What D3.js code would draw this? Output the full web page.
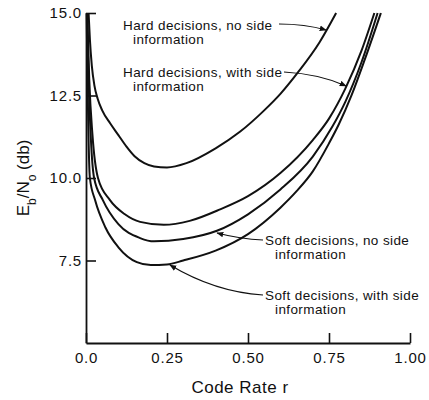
<!DOCTYPE html>
<html>
<head>
<meta charset="utf-8">
<script src="https://cdn.jsdelivr.net/npm/d3@7"></script>
<style>
  html, body { margin: 0; padding: 0; background: #fff; }
  svg { display: block; }
  text { font-family: "Liberation Sans", Arial, sans-serif; fill: #111; }
</style>
</head>
<body>
<svg id="chart" width="429" height="400"></svg>
<script>
// ---------- data ----------
const xTickValues = [0, 0.25, 0.5, 0.75, 1.0];
const xTickLabels = ["0.0", "0.25", "0.50", "0.75", "1.00"];
const yTickValues = [7.5, 10, 12.5, 15];
const yTickLabels = ["7.5", "10.0", "12.5", "15.0"];

// [code rate r, Eb/No (db)]
const hardNoSide = [
  [0.008, 15.0], [0.012, 14.2], [0.018, 13.4], [0.026, 12.8], [0.036, 12.4],
  [0.05, 12.05], [0.075, 11.65], [0.1, 11.3], [0.125, 10.95], [0.15, 10.66],
  [0.18, 10.45], [0.21, 10.35], [0.25, 10.32], [0.31, 10.45], [0.40, 10.9],
  [0.475, 11.4], [0.55, 12.05], [0.6, 12.55], [0.654, 13.2], [0.72, 14.1],
  [0.772, 15.0]
];
const hardWithSide = [
  [0.004, 15.0], [0.01, 13.0], [0.02, 11.3], [0.037, 10.0], [0.074, 9.33],
  [0.12, 8.9], [0.167, 8.67], [0.24, 8.58], [0.32, 8.7], [0.414, 9.05],
  [0.5, 9.45], [0.6, 10.15], [0.7, 11.15], [0.75, 11.8], [0.8, 12.7],
  [0.85, 13.85], [0.89, 15.0]
];
const softNoSide = [
  [0.003, 15.0], [0.008, 13.0], [0.015, 11.2], [0.025, 10.0], [0.052, 9.33],
  [0.1, 8.6], [0.167, 8.18], [0.21, 8.08], [0.3, 8.15], [0.404, 8.4],
  [0.5, 8.9], [0.6, 9.65], [0.7, 10.65], [0.76, 11.55], [0.8, 12.3],
  [0.85, 13.5], [0.90, 15.0]
];
const softWithSide = [
  [0.002, 15.0], [0.005, 12.8], [0.012, 10.0], [0.028, 9.33], [0.06, 8.5],
  [0.1, 7.9], [0.157, 7.45], [0.2, 7.36], [0.25, 7.38], [0.3, 7.5],
  [0.4, 7.8], [0.5, 8.3], [0.6, 9.1], [0.65, 9.6], [0.7, 10.2],
  [0.75, 11.05], [0.78, 11.62], [0.82, 12.52], [0.86, 13.58], [0.91, 15.0]
];
const seriesList = [hardNoSide, hardWithSide, softNoSide, softWithSide];

const labelHardNoSide = ["Hard decisions, no side", "information"];
const labelHardWithSide = ["Hard decisions, with side", "information"];
const labelSoftNoSide = ["Soft decisions, no side", "information"];
const labelSoftWithSide = ["Soft decisions, with side", "information"];

const xTitle = "Code Rate r";

// ---------- layout ----------
const svg = d3.select("#chart");
const x = d3.scaleLinear().domain([0, 1]).range([86, 410]);
const y = d3.scaleLinear().domain([5, 15]).range([343, 13]);

svg.append("defs").append("clipPath").attr("id", "plotClip")
  .append("rect").attr("x", 84).attr("y", 12).attr("width", 340).attr("height", 332);

svg.append("defs").append("marker")
  .attr("id", "arrow").attr("viewBox", "0 0 10 10")
  .attr("refX", 9).attr("refY", 5)
  .attr("markerWidth", 7).attr("markerHeight", 7)
  .attr("markerUnits", "userSpaceOnUse")
  .attr("orient", "auto")
  .append("path").attr("d", "M0,1 L10,5 L0,9 Z").attr("fill", "#111");

// axes
const yAxis = d3.axisLeft(y)
  .tickValues(yTickValues)
  .tickFormat((d, i) => yTickLabels[i])
  .tickSizeInner(-10).tickSizeOuter(0).tickPadding(4);
const gy = svg.append("g").attr("transform", `translate(${x(0)},0)`).call(yAxis);

const xAxis = d3.axisBottom(x)
  .tickValues(xTickValues)
  .tickFormat((d, i) => xTickLabels[i])
  .tickSizeInner(-10).tickSizeOuter(0).tickPadding(9);
const gx = svg.append("g").attr("transform", `translate(0,${y(5)})`).call(xAxis);

[gx, gy].forEach(g => {
  g.select(".domain").attr("stroke", "#111").attr("stroke-width", 1.8);
  g.selectAll(".tick line").attr("stroke", "#111").attr("stroke-width", 1.6);
  g.selectAll(".tick text")
    .attr("fill", "#111")
    .style("font-family", '"Liberation Sans", Arial, sans-serif')
    .style("font-size", "15px")
    .style("letter-spacing", "0.8px");
});

// curves
const line = d3.line()
  .x(d => x(d[0]))
  .y(d => y(d[1]))
  .curve(d3.curveMonotoneX);

svg.append("g").attr("clip-path", "url(#plotClip)")
  .selectAll("path.curve")
  .data(seriesList)
  .join("path")
  .attr("class", "curve")
  .attr("d", line)
  .attr("fill", "none")
  .attr("stroke", "#111")
  .attr("stroke-width", 2);

// annotations
function label(lines, px, py) {
  const t = svg.append("text")
    .style("font-size", "13.5px")
    .style("letter-spacing", "0.4px");
  t.append("tspan").attr("x", px).attr("y", py).text(lines[0]);
  t.append("tspan").attr("x", px + 10).attr("y", py + 14).text(lines[1]);
}
label(labelHardNoSide, 123, 30);
label(labelHardWithSide, 123, 77);
label(labelSoftNoSide, 265, 245);
label(labelSoftWithSide, 265, 300);

const arrows = [
  "M279,24 Q305,24 326,30",
  "M284,72 Q320,74 346,86",
  "M263,240 Q240,239 217,233",
  "M263,295 Q215,292 170,265"
];
svg.selectAll("path.arrow")
  .data(arrows)
  .join("path")
  .attr("class", "arrow")
  .attr("d", d => d)
  .attr("fill", "none")
  .attr("stroke", "#111")
  .attr("stroke-width", 1.2)
  .attr("marker-end", "url(#arrow)");

// axis titles
svg.append("text")
  .attr("x", 240).attr("y", 393)
  .attr("text-anchor", "middle")
  .style("font-size", "17px")
  .style("letter-spacing", "0.5px")
  .text(xTitle);

const yt = svg.append("text")
  .attr("transform", "translate(29,178) rotate(-90)")
  .attr("text-anchor", "middle")
  .style("font-size", "17px");
yt.append("tspan").text("E");
yt.append("tspan").attr("baseline-shift", "sub").style("font-size", "12px").text("b");
yt.append("tspan").text("/N");
yt.append("tspan").attr("baseline-shift", "sub").style("font-size", "12px").text("o");
yt.append("tspan").text(" (db)");
</script>
</body>
</html>
